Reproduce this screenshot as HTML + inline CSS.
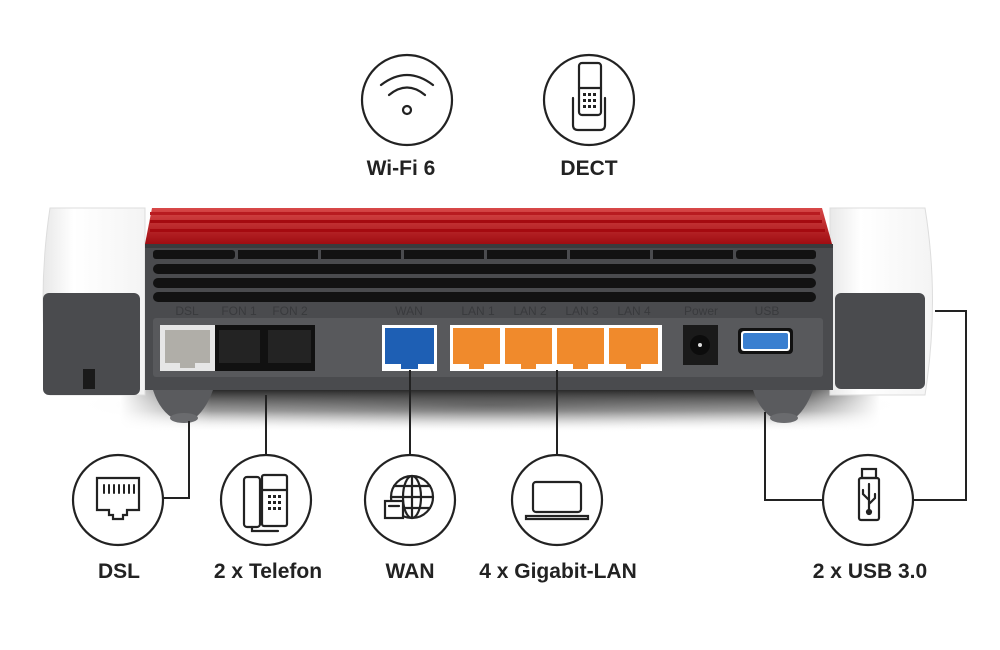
<!DOCTYPE html>
<html><head><meta charset="utf-8"><style>
html,body{margin:0;padding:0;background:#fff;}
svg{display:block}
text{font-family:"Liberation Sans Narrow","Liberation Sans",sans-serif;font-weight:bold;fill:#222}
.pl{font-family:"Liberation Sans",sans-serif;font-weight:normal;fill:#393a3d}
</style></head><body>
<svg width="1000" height="650" viewBox="0 0 1000 650" xmlns="http://www.w3.org/2000/svg">
<defs>
<linearGradient id="red" x1="0" y1="0" x2="0" y2="1"><stop offset="0" stop-color="#d84848"/><stop offset="1" stop-color="#a00d12"/></linearGradient>
<linearGradient id="cap" x1="0" y1="0" x2="1" y2="0"><stop offset="0" stop-color="#e8e8e8"/><stop offset="0.3" stop-color="#fff"/><stop offset="1" stop-color="#f4f4f4"/></linearGradient>
<linearGradient id="shd" x1="0" y1="0" x2="0" y2="1"><stop offset="0" stop-color="#2a2a2a"/><stop offset="0.5" stop-color="#777" stop-opacity="0.7"/><stop offset="1" stop-color="#fff" stop-opacity="0"/></linearGradient>
<linearGradient id="shx" x1="0" y1="0" x2="1" y2="0"><stop offset="0" stop-color="#fff" stop-opacity="1"/><stop offset="0.12" stop-color="#fff" stop-opacity="0"/><stop offset="0.88" stop-color="#fff" stop-opacity="0"/><stop offset="1" stop-color="#fff" stop-opacity="1"/></linearGradient>
<radialGradient id="sh" cx="0.5" cy="0.5" r="0.5"><stop offset="0" stop-color="#555" stop-opacity="0.8"/><stop offset="1" stop-color="#fff" stop-opacity="0"/></radialGradient>
</defs>
<!-- shadow -->
<ellipse cx="490" cy="405" rx="420" ry="28" fill="url(#sh)"/>
<rect x="120" y="390" width="760" height="42" fill="url(#shd)"/>
<rect x="120" y="390" width="760" height="42" fill="url(#shx)"/>
<!-- caps -->
<path d="M50 208 H145 V395 H50 Q36 300 50 208Z" fill="url(#cap)" stroke="#ddd"/>
<path d="M830 208 H925 Q940 300 925 395 H830Z" fill="url(#cap)" stroke="#ddd"/>
<!-- red top -->
<path d="M152 208 H822 L832 244 H145Z" fill="url(#red)"/>
<rect x="150" y="212" width="670" height="3" fill="#b81b20"/>
<rect x="150" y="220" width="672" height="3" fill="#a50a10"/>
<rect x="150" y="229" width="675" height="3" fill="#a50a10"/>
<!-- body -->
<rect x="145" y="244" width="688" height="146" fill="#4a4b4e"/>
<rect x="145" y="244" width="688" height="4" fill="#3a3b3d"/>
<!-- vents -->
<g fill="#121212">
<rect x="153" y="250" width="82" height="9" rx="3"/><rect x="238" y="250" width="80" height="9"/><rect x="321" y="250" width="80" height="9"/><rect x="404" y="250" width="80" height="9"/><rect x="487" y="250" width="80" height="9"/><rect x="570" y="250" width="80" height="9"/><rect x="653" y="250" width="80" height="9"/><rect x="736" y="250" width="80" height="9" rx="3"/>
<rect x="153" y="264" width="663" height="10" rx="5"/>
<rect x="153" y="278" width="663" height="10" rx="5"/>
<rect x="153" y="292" width="663" height="10" rx="5"/>
</g>
<!-- side grey blocks -->
<rect x="43" y="293" width="97" height="102" rx="6" fill="#4a4b4e"/>
<rect x="83" y="369" width="12" height="20" fill="#1a1a1a"/>
<rect x="835" y="293" width="90" height="96" rx="6" fill="#4a4b4e"/>
<!-- port labels -->
<g font-size="12" text-anchor="middle">
<text class="pl" x="187" y="315">DSL</text>
<text class="pl" x="239" y="315">FON 1</text>
<text class="pl" x="290" y="315">FON 2</text>
<text class="pl" x="409" y="315">WAN</text>
<text class="pl" x="478" y="315">LAN 1</text>
<text class="pl" x="530" y="315">LAN 2</text>
<text class="pl" x="582" y="315">LAN 3</text>
<text class="pl" x="634" y="315">LAN 4</text>
<text class="pl" x="701" y="315">Power</text>
<text class="pl" x="767" y="315">USB</text>
</g>
<!-- panel -->
<rect x="153" y="318" width="670" height="59" rx="3" fill="#58595c"/>
<rect x="160" y="325" width="55" height="46" fill="#e6e6e6"/>
<rect x="165" y="330" width="45" height="33" fill="#b0aea8"/>
<rect x="180" y="363" width="15" height="5" fill="#b0aea8"/>
<rect x="215" y="325" width="49" height="46" fill="#111"/>
<rect x="264" y="325" width="51" height="46" fill="#111"/>
<rect x="219" y="330" width="41" height="33" fill="#232323"/>
<rect x="268" y="330" width="43" height="33" fill="#232323"/>
<rect x="382" y="325" width="55" height="46" fill="#fff"/>
<rect x="385" y="328" width="49" height="36" fill="#1e5fb4"/>
<rect x="401" y="364" width="17" height="5" fill="#1e5fb4"/>
<rect x="450" y="325" width="212" height="46" fill="#fff"/>
<g fill="#f08a2c">
<rect x="453" y="328" width="47" height="36"/><rect x="469" y="364" width="15" height="5"/>
<rect x="505" y="328" width="47" height="36"/><rect x="521" y="364" width="15" height="5"/>
<rect x="557" y="328" width="47" height="36"/><rect x="573" y="364" width="15" height="5"/>
<rect x="609" y="328" width="49" height="36"/><rect x="626" y="364" width="15" height="5"/>
</g>
<rect x="683" y="325" width="35" height="40" fill="#1a1a1a"/>
<circle cx="700" cy="345" r="10" fill="#0c0c0c"/>
<circle cx="700" cy="345" r="2" fill="#ddd"/>
<rect x="738" y="328" width="55" height="26" rx="4" fill="#111"/>
<rect x="741" y="331" width="49" height="20" rx="3" fill="#fff"/>
<rect x="743" y="333" width="45" height="16" rx="2" fill="#3a7fd0"/>
<!-- feet -->
<path d="M153 390 H213 Q205 412 192 420 H176 Q160 412 153 390Z" fill="#5a5b5e"/>
<path d="M753 390 H813 Q805 412 792 420 H776 Q760 412 753 390Z" fill="#5a5b5e"/>
<ellipse cx="184" cy="418" rx="14" ry="5" fill="#6a6b6e"/>
<ellipse cx="784" cy="418" rx="14" ry="5" fill="#6a6b6e"/>
<!-- connectors -->
<g stroke="#222" stroke-width="2" fill="none">
<path d="M189 421 V498 H163"/>
<path d="M266 395 V455"/>
<path d="M410 370 V455"/>
<path d="M557 370 V455"/>
<path d="M765 412 V500 H823"/>
<path d="M935 311 H966 V500 H913"/>
</g>
<g stroke="#222" stroke-width="2.2" fill="#fff">
<circle cx="407" cy="100" r="45"/>
<circle cx="589" cy="100" r="45"/>
<circle cx="118" cy="500" r="45"/>
<circle cx="266" cy="500" r="45"/>
<circle cx="410" cy="500" r="45"/>
<circle cx="557" cy="500" r="45"/>
<circle cx="868" cy="500" r="45"/>
</g>
<g stroke="#222" stroke-width="2.2" fill="none" stroke-linecap="round">
<path d="M381 85 Q407 65 433 85"/><path d="M389 95 Q407 80 425 95"/><circle cx="407" cy="110" r="4"/>
<rect x="579" y="63" width="22" height="52" rx="3"/><path d="M579 88 H601"/>
<path d="M573 98 V125 Q573 130 578 130 H600 Q605 130 605 125 V98"/>
<g fill="#222" stroke="none"><rect x="583" y="93" width="3" height="3"/><rect x="588" y="93" width="3" height="3"/><rect x="593" y="93" width="3" height="3"/><rect x="583" y="99" width="3" height="3"/><rect x="588" y="99" width="3" height="3"/><rect x="593" y="99" width="3" height="3"/><rect x="583" y="105" width="3" height="3"/><rect x="588" y="105" width="3" height="3"/><rect x="593" y="105" width="3" height="3"/></g>
<path d="M97 478 H139 V510 H127 V515 H123 V519 H113 V515 H109 V510 H97Z"/>
<path d="M104 485 V493 M109 485 V493 M114 485 V493 M119 485 V493 M124 485 V493 M129 485 V493 M134 485 V493" stroke-width="2"/>
<rect x="244" y="477" width="16" height="50" rx="3"/>
<rect x="262" y="475" width="25" height="51" rx="2"/>
<path d="M262 490 H287"/><path d="M252 527 V531 H278"/>
<g fill="#222" stroke="none"><rect x="268" y="495" width="3" height="3"/><rect x="273" y="495" width="3" height="3"/><rect x="278" y="495" width="3" height="3"/><rect x="268" y="501" width="3" height="3"/><rect x="273" y="501" width="3" height="3"/><rect x="278" y="501" width="3" height="3"/><rect x="268" y="507" width="3" height="3"/><rect x="273" y="507" width="3" height="3"/><rect x="278" y="507" width="3" height="3"/></g>
<circle cx="412" cy="497" r="21"/><ellipse cx="412" cy="497" rx="9" ry="21"/><path d="M391 497 H433 M394 486 H430 M394 508 H430 M412 476 V518"/>
<rect x="385" y="501" width="18" height="17" fill="#fff"/><path d="M389 506 H399"/>
<rect x="533" y="482" width="48" height="30" rx="3"/><path d="M526 516 H588 V519 H526Z"/>
<rect x="862" y="469" width="14" height="9"/><rect x="859" y="478" width="20" height="42" rx="2"/>
<path d="M869 484 V512 M869 500 L863 494 V490 M869 504 L875 498 V494"/><circle cx="869" cy="512" r="2" fill="#222"/>
</g>
<g font-size="21" text-anchor="middle">
<text x="401" y="175">Wi-Fi 6</text>
<text x="589" y="175">DECT</text>
<text x="119" y="578">DSL</text>
<text x="268" y="578">2 x Telefon</text>
<text x="410" y="578">WAN</text>
<text x="558" y="578">4 x Gigabit-LAN</text>
<text x="870" y="578">2 x USB 3.0</text>
</g>
</svg>
</body></html>
